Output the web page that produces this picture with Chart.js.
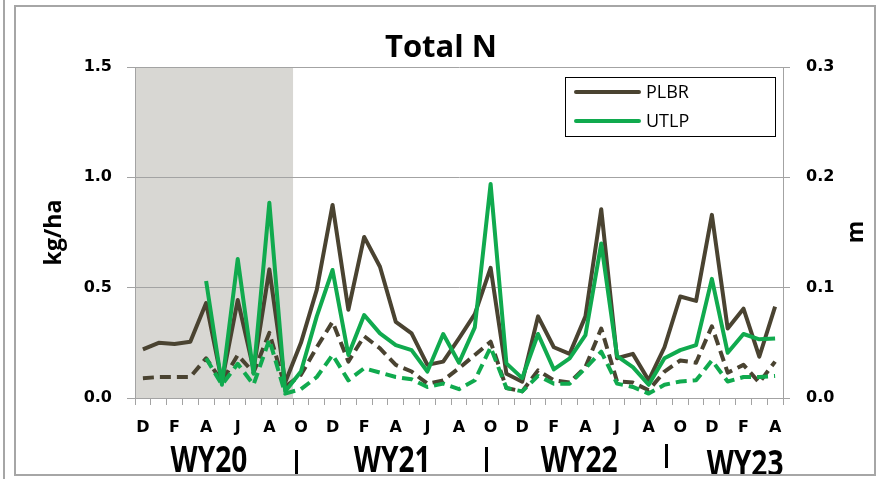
<!DOCTYPE html>
<html>
<head>
<meta charset="utf-8">
<title>Total N</title>
<script src="https://cdn.jsdelivr.net/npm/chart.js@4.4.0/dist/chart.umd.min.js"></script>
<style>
  html, body { margin: 0; padding: 0; background: #fff; overflow: hidden; }
  canvas { display: block; }
</style>
</head>
<body>
<canvas id="c" width="878" height="479"></canvas>
<script>
// Monthly categories, Dec 2019 through Apr 2023
const months = [
  'D','J','F','M','A','M','J','J','A','S',
  'O','N','D','J','F','M','A','M','J','J','A','S',
  'O','N','D','J','F','M','A','M','J','J','A','S',
  'O','N','D','J','F','M','A'
];

// Water years and how many of the months above fall in each
const waterYears = ['WY20', 'WY21', 'WY22', 'WY23'];
const waterYearMonths = [10, 12, 12, 7];

// Total N load, kg/ha (left axis)
const plbrLoad = [
  0.22, 0.25, 0.245, 0.255, 0.43, 0.074, 0.444, 0.13, 0.583, 0.07,
  0.25, 0.49, 0.875, 0.40, 0.73, 0.595, 0.345, 0.293, 0.15, 0.165, 0.27, 0.38,
  0.59, 0.11, 0.074, 0.37, 0.23, 0.20, 0.37, 0.855, 0.18, 0.20, 0.08, 0.23,
  0.46, 0.44, 0.83, 0.315, 0.405, 0.187, 0.414
];
const utlpLoad = [
  null, null, null, null, 0.53, 0.06, 0.63, 0.11, 0.885, 0.03,
  0.12, 0.37, 0.58, 0.195, 0.376, 0.293, 0.24, 0.217, 0.12, 0.29, 0.16, 0.32,
  0.97, 0.157, 0.09, 0.29, 0.13, 0.18, 0.285, 0.70, 0.19, 0.14, 0.06, 0.18,
  0.217, 0.24, 0.54, 0.205, 0.29, 0.266, 0.27
];

// Flow depth, m (right axis, dashed)
const plbrDepth = [
  0.018, 0.019, 0.019, 0.019, 0.036, 0.015, 0.039, 0.023, 0.059, 0.010,
  0.021, 0.046, 0.069, 0.033, 0.056, 0.045, 0.030, 0.024, 0.013, 0.016, 0.027, 0.039,
  0.051, 0.009, 0.006, 0.025, 0.016, 0.014, 0.028, 0.063, 0.015, 0.014, 0.007, 0.024,
  0.034, 0.032, 0.065, 0.023, 0.030, 0.014, 0.033
];
const utlpDepth = [
  null, null, null, null, 0.036, 0.012, 0.031, 0.012, 0.053, 0.004,
  0.008, 0.019, 0.039, 0.016, 0.027, 0.023, 0.019, 0.017, 0.010, 0.013, 0.008, 0.016,
  0.046, 0.009, 0.006, 0.020, 0.013, 0.013, 0.027, 0.042, 0.013, 0.010, 0.004, 0.012,
  0.015, 0.016, 0.034, 0.015, 0.019, 0.019, 0.020
];

const BROWN = '#4a4331';
const GREEN = '#10aa4e';
const GRID = '#a3a3a3';

// Shading for the first water year, title, legend box, water-year labels and frame
const decor = {
  id: 'decor',
  beforeDraw(chart) {
    const { ctx, chartArea: a } = chart;
    const step = (a.right - a.left) / months.length;
    ctx.save();
    ctx.fillStyle = '#d8d7d3';
    ctx.fillRect(a.left, a.top, step * waterYearMonths[0], a.bottom - a.top);
    ctx.restore();
  },
  afterDraw(chart) {
    const { ctx, chartArea: a } = chart;
    const step = (a.right - a.left) / months.length;
    ctx.save();

    // title
    ctx.fillStyle = '#000';
    ctx.textAlign = 'center';
    ctx.textBaseline = 'alphabetic';
    ctx.font = 'bold 31px "Open Sans"';
    ctx.fillText('Total N', 441, 57);

    // secondary axis title
    ctx.save();
    ctx.translate(856, 232);
    ctx.rotate(-Math.PI / 2);
    ctx.textBaseline = 'middle';
    ctx.font = 'bold 23px "Open Sans"';
    ctx.fillText('m', 0, 0);
    ctx.restore();

    // legend
    const lx = 565, ly = 77, lw = 210, lh = 59;
    ctx.strokeStyle = '#000';
    ctx.lineWidth = 1;
    ctx.strokeRect(lx + 0.5, ly + 0.5, lw, lh);
    const entries = [chart.data.datasets[1], chart.data.datasets[0]];
    ctx.font = '18px "Open Sans"';
    ctx.textAlign = 'left';
    ctx.textBaseline = 'middle';
    entries.forEach((ds, i) => {
      const y = ly + 15 + i * 29;
      ctx.strokeStyle = ds.borderColor;
      ctx.lineWidth = 4;
      ctx.lineCap = 'round';
      ctx.beginPath();
      ctx.moveTo(lx + 11, y);
      ctx.lineTo(lx + 74, y);
      ctx.stroke();
      ctx.fillStyle = '#000';
      ctx.fillText(ds.label, lx + 81, y + 1);
    });

    // water-year labels and separators
    const centers = [4.68, 16.27, 28.1, 38.6];
    const seps = [10.19, 22.2, 33.6];
    const yOff = [0, 0, 0, 4];
    ctx.textAlign = 'center';
    ctx.textBaseline = 'alphabetic';
    ctx.fillStyle = '#000';
    waterYears.forEach((t, i) => {
      ctx.save();
      ctx.translate(a.left + centers[i] * step, 472 + yOff[i]);
      ctx.scale(0.78, 1);
      ctx.font = 'bold 36px "Open Sans"';
      ctx.fillText(t, 0, 0);
      ctx.restore();
    });
    ctx.lineWidth = 3;
    ctx.strokeStyle = '#000';
    ctx.lineCap = 'butt';
    seps.forEach((s, i) => {
      const x = Math.round(a.left + s * step) + 0.5;
      ctx.beginPath();
      ctx.moveTo(x, 450 - i * 3);
      ctx.lineTo(x, 476 - i * 4);
      ctx.stroke();
    });

    // outer frame
    ctx.strokeStyle = '#a6a6a6';
    ctx.lineWidth = 2;
    ctx.strokeRect(15, 6, 860, 469);
    ctx.beginPath();
    ctx.moveTo(4, 0);
    ctx.lineTo(4, 479);
    ctx.stroke();
    ctx.restore();
  }
};

const tickFont = { family: 'DejaVu Sans', weight: 'bold', size: 16 };

new Chart(document.getElementById('c'), {
  type: 'line',
  data: {
    labels: months,
    datasets: [
      { label: 'UTLP', data: utlpLoad, yAxisID: 'y', borderColor: GREEN, order: 0 },
      { label: 'PLBR', data: plbrLoad, yAxisID: 'y', borderColor: BROWN, order: 1 },
      { label: 'UTLP depth', data: utlpDepth, yAxisID: 'y2', borderColor: GREEN, borderDash: [11, 6], order: 2 },
      { label: 'PLBR depth', data: plbrDepth, yAxisID: 'y2', borderColor: BROWN, borderDash: [11, 6], order: 3 }
    ]
  },
  options: {
    responsive: false,
    animation: false,
    devicePixelRatio: 1,
    layout: { padding: { top: 67, left: 0, right: 0, bottom: 0 } },
    elements: {
      point: { radius: 0, hoverRadius: 0 },
      line: { tension: 0, borderWidth: 4, fill: false, borderJoinStyle: 'round', borderCapStyle: 'butt' }
    },
    plugins: { legend: { display: false }, tooltip: { enabled: false }, title: { display: false } },
    scales: {
      x: {
        type: 'category',
        offset: true,
        grid: { drawOnChartArea: false, offset: true, tickLength: 7, color: GRID },
        border: { color: GRID },
        ticks: {
          autoSkip: false, maxRotation: 0, padding: 13, color: '#000', font: tickFont,
          callback: function (v, i) { return i % 2 === 0 ? this.getLabelForValue(v) : ''; }
        },
        afterFit: s => { s.height = 81; }
      },
      y: {
        position: 'left',
        min: 0, max: 1.5,
        ticks: { stepSize: 0.5, padding: 15, color: '#000', font: tickFont, callback: v => v.toFixed(1) },
        grid: { color: GRID, tickLength: 8 },
        border: { color: GRID },
        title: {
          display: true, text: 'kg/ha', color: '#000',
          font: { family: 'Open Sans', weight: 'bold', size: 23 },
          padding: { top: 41, bottom: 0 }
        },
        afterFit: s => { s.width = 135; }
      },
      y2: {
        position: 'right',
        min: 0, max: 0.3,
        ticks: { stepSize: 0.1, padding: 16, color: '#000', font: tickFont, callback: v => v.toFixed(1) },
        grid: { drawOnChartArea: false, tickLength: 7, color: GRID },
        border: { color: GRID },
        afterFit: s => { s.width = 95; }
      }
    }
  },
  plugins: [decor]
});
</script>
</body>
</html>
